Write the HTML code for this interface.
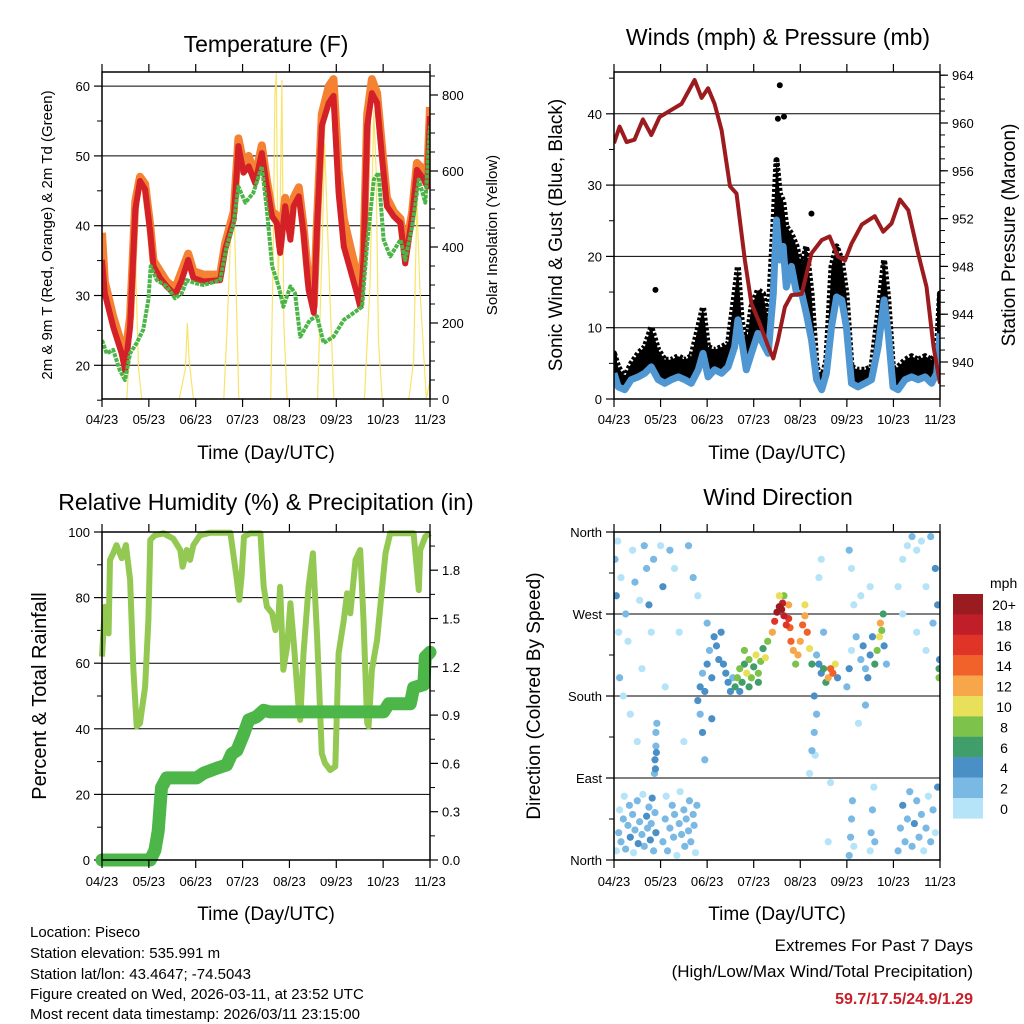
<!DOCTYPE html>
<html><head><meta charset="utf-8"><style>
html,body{margin:0;padding:0;background:#fff}
svg{display:block;font-family:"Liberation Sans",Arial,sans-serif}
</style></head><body>
<svg id="root" width="1024" height="1024" viewBox="0 0 1024 1024">
<defs>
<clipPath id="c1"><rect x="102" y="72" width="328" height="327"/></clipPath>
<clipPath id="c2"><rect x="614" y="72" width="326" height="327"/></clipPath>
<clipPath id="c3"><rect x="90" y="525" width="352" height="345"/></clipPath>
<clipPath id="c4"><rect x="614" y="532" width="326" height="328"/></clipPath>
</defs>
<g id="g1"></g>
<g id="g2"></g>
<g id="g3"></g>
<g id="g4"></g>
<g font-size="15" fill="#000">
<text x="30" y="937">Location: Piseco</text>
<text x="30" y="958">Station elevation: 535.991 m</text>
<text x="30" y="979">Station lat/lon: 43.4647; -74.5043</text>
<text x="30" y="999">Figure created on Wed, 2026-03-11, at 23:52 UTC</text>
<text x="30" y="1019">Most recent data timestamp: 2026/03/11 23:15:00</text>
</g>
<g text-anchor="end">
<text x="973" y="951" font-size="17">Extremes For Past 7 Days</text>
<text x="973" y="977" font-size="17">(High/Low/Max Wind/Total Precipitation)</text>
<text x="973" y="1004" font-size="16" font-weight="bold" fill="#c8202a">59.7/17.5/24.9/1.29</text>
</g>
</svg>
<script>
const NS="http://www.w3.org/2000/svg";
const monthLabels=["04/23","05/23","06/23","07/23","08/23","09/23","10/23","11/23"];
// Temperature
const tempT=[0,.06,.24,.42,.49,.60,.71,.81,.92,1.03,1.10,1.24,1.38,1.56,1.70,1.84,1.95,2.17,2.52,2.63,2.81,2.91,3.02,3.13,3.27,3.41,3.52,3.63,3.73,3.80,3.91,4.02,4.09,4.20,4.30,4.41,4.52,4.59,4.69,4.84,4.94,5.05,5.16,5.30,5.44,5.51,5.58,5.66,5.76,5.87,5.98,6.08,6.23,6.37,6.47,6.62,6.72,6.87,6.94,7.0];
const temp2m=[35.1,30.3,25.5,21.7,19.3,25.5,42.3,46.4,45.2,39,34.2,32.5,31.3,30.1,32.2,35.1,32.5,32,32.2,36.6,40.9,51.4,47.6,48.5,46.1,50.4,45.6,41.3,40.4,36.1,42.8,38,42.8,44.2,39,30.8,27.5,39.9,54.3,57.6,58.6,44.7,37,33.7,30.3,28.4,35.1,54.3,59,57.6,49.5,42.8,41.3,40.4,34.6,41.3,48,46.6,45.6,55.7];
const temp9m=[39,32,27,23,21,27,43.5,47,46,40,35,33.5,32,31,33.5,36,33.5,33,33,37.5,42,52.5,49,50,47,51.5,46.5,42,41.5,37,44,39,44,45.5,40,32,28.5,41,56,60,61,48,41,37,33,31,36,56,61,59,51,44,42,41,36,42,49,48,47,57];
const dewT=[0,.10,.24,.38,.49,.60,.74,.88,.99,1.04,1.17,1.38,1.56,1.70,1.81,2.02,2.17,2.52,2.66,2.81,2.91,3.06,3.23,3.41,3.52,3.63,3.77,3.87,4.02,4.12,4.23,4.44,4.59,4.73,4.94,5.16,5.37,5.55,5.66,5.80,5.90,6.01,6.15,6.37,6.47,6.62,6.76,6.90,7.0];
const dew2m=[23.6,21.7,22.2,19.3,17.9,21.7,23.2,25.1,29.4,34.2,32.2,31.3,29.6,30.3,32.2,31.7,31.5,32.2,37,40.4,45.6,43.3,44.7,48.5,42.3,34.2,31.3,28.4,31.3,30.3,24.1,26.5,27,23.2,24.1,26.5,27.5,28.4,37.5,46.6,47.6,38,35.6,38,35.1,39.9,46.6,43.3,54.3];
const solT=[0,.53,.62,.68,.72,.78,.85,1.65,1.78,1.82,1.86,1.95,2.6,2.68,2.75,2.8,2.86,2.92,3.6,3.65,3.69,3.72,3.76,3.8,3.84,3.88,3.95,4.6,4.7,4.75,4.8,4.87,4.95,5.6,5.72,5.8,5.85,5.9,5.98,6.55,6.65,6.72,6.78,6.85,6.92,7.0];
const solV=[0,0,200,470,350,80,0,0,80,200,100,0,0,220,450,611,300,0,0,350,800,857,300,500,840,200,0,0,400,673,500,250,0,0,300,760,600,150,0,0,100,524,300,150,0,50];
const tempTicks=[20,30,40,50,60];
const solTicks=[0,200,400,600,800];
// Winds
const windT=[0,.09,.23,.37,.52,.66,.80,.95,1.09,1.23,1.38,1.52,1.66,1.81,1.91,2.02,2.16,2.31,2.45,2.59,2.66,2.74,2.84,2.95,3.09,3.20,3.31,3.42,3.49,3.56,3.63,3.70,3.81,3.92,4.03,4.13,4.24,4.35,4.46,4.56,4.67,4.78,4.89,4.99,5.10,5.24,5.39,5.53,5.67,5.80,5.89,5.99,6.10,6.25,6.39,6.53,6.68,6.82,6.93,7.0];
const sonicV=[3.6,1.7,1.3,2.7,3.1,3.6,4.5,2.7,2.2,2.7,3.1,2.7,2.2,4.1,6.4,3.1,4.1,3.6,4.5,7.3,11.1,8.3,4.1,6.4,9.2,7.8,6.4,14.8,25.1,19.5,21.4,15.7,18.6,14.8,14.8,12,8.3,2.7,1.3,3.6,10.1,14.3,13.9,10.1,2.2,1.7,2.2,2.7,7.3,13.9,9.2,1.7,1.3,2.7,3.1,2.7,3.1,2.2,3.6,9.2];
const gustV=[6.4,4.5,3.1,5,6.4,7.3,10.1,6.9,5.5,5.5,6,5.5,6,10.1,12.9,7.3,6.9,7.3,7.8,14.8,18.6,11.1,7.3,12.9,15.3,14.8,11.1,24.2,33.5,28.8,27.8,24.2,23.2,21.4,18.6,21.4,14.8,4.5,2.7,5.5,18.6,21.4,19.5,14.8,4.5,4.1,4.1,4.5,12,19.5,13.9,4.1,4.5,5.5,6,5.5,6,5.5,6.4,14.8];
const gustOutT=[.89,3.56,3.52,3.65,4.24];
const gustOutV=[15.3,44,39.3,39.6,26];
const presT=[0,.12,.27,.44,.62,.80,.98,1.23,1.45,1.73,1.88,2.02,2.16,2.31,2.49,2.63,2.81,2.95,3.13,3.31,3.42,3.52,3.67,3.81,4.03,4.24,4.46,4.63,4.81,4.96,5.10,5.32,5.60,5.78,5.96,6.14,6.32,6.53,6.71,6.86,7.0];
const presV=[958.3,959.7,958.4,958.6,960.3,959,960.5,961.1,961.6,963.6,962.1,962.9,961.6,959.4,954.7,954.1,948.5,944.9,943.2,941.3,940.3,941.8,944.6,945.6,945.7,949.1,950.2,950.5,948.8,948.5,949.9,951.5,952.2,950.9,951.6,953.6,952.7,949.1,946.3,941.3,938.2];
const windTicks=[0,10,20,30,40];
const presTicks=[940,944,948,952,956,960,964];
// Humidity
const rhT=[0,.06,.14,.17,.24,.31,.42,.51,.60,.67,.74,.81,.92,.99,1.03,1.13,1.31,1.52,1.67,1.72,1.81,1.88,1.95,2.09,2.31,2.74,2.82,2.88,2.93,2.98,3.03,3.16,3.38,3.45,3.52,3.63,3.70,3.77,3.80,3.87,3.95,4.02,4.10,4.20,4.23,4.30,4.41,4.50,4.59,4.69,4.76,4.87,4.98,5.05,5.16,5.23,5.30,5.41,5.51,5.58,5.66,5.69,5.76,5.87,5.98,6.05,6.15,6.44,6.65,6.76,6.79,6.90,7.0];
const rhV=[62,77.2,69.1,91.5,93.5,96,92,96,85.4,58,40.7,41.7,52.8,73.2,97.6,99,99.6,98,94.5,89.4,94.5,91.5,96,99,99.8,99.8,91.5,85.4,79.3,86.6,98.6,99.6,99.6,83.3,77.2,75.2,70.1,75.2,83.3,58,65,78.3,65,45.7,42.7,63,83.3,93.5,68.1,32.5,29.5,27.4,28.5,63,73.2,81.3,75.2,91.5,94.5,73.2,41.7,40.7,58,67.1,83.3,93.5,99.6,99.6,99.6,82.3,94.5,98.6,99.6];
const prT=[0,1.03,1.13,1.20,1.27,1.38,2.02,2.17,2.45,2.66,2.77,2.88,3.02,3.13,3.30,3.45,3.59,6.01,6.12,6.58,6.65,6.87,6.90,7.0];
const prV=[0,0,.06,.18,.45,.51,.51,.54,.57,.59,.66,.68,.78,.87,.89,.93,.92,.92,.97,.97,1.07,1.09,1.26,1.29];
const rhTicks=[0,20,40,60,80,100];
const prTicks=["0.0","0.3","0.6","0.9","1.2","1.5","1.8"];
// Wind direction
const wdT=[0.05,0.1,0.12,0.15,0.2,0.22,0.25,0.3,0.33,0.35,0.4,0.42,0.45,0.5,0.52,0.55,0.6,0.62,0.65,0.7,0.72,0.75,0.78,0.8,0.82,0.85,0.88,0.9,
1.05,1.1,1.12,1.15,1.2,1.25,1.28,1.3,1.35,1.4,1.42,1.45,1.5,1.52,1.55,1.6,1.62,1.65,1.7,1.72,1.75,1.78,
0.87,0.88,0.9,0.9,0.92,0.89,0.91,
0.02,0.05,0.08,0.1,0.12,0.15,0.2,0.25,0.3,0.35,0.4,0.45,0.5,0.55,0.6,0.65,0.7,0.75,0.8,0.85,1.0,1.05,1.1,1.2,1.3,1.4,1.5,1.6,1.7,1.8,
1.8,1.85,1.9,1.95,2.0,2.05,2.1,2.15,2.2,2.25,2.3,2.35,2.4,2.45,2.5,2.55,1.85,1.9,2.0,2.1,1.95,
2.6,2.65,2.7,2.75,2.8,2.85,2.9,2.95,3.0,3.05,3.1,3.15,3.2,3.25,3.3,2.7,2.9,3.1,2.8,
3.4,3.45,3.5,3.55,3.6,3.62,3.65,3.7,3.75,3.78,3.8,3.85,3.55,3.65,3.75,
3.9,3.95,4.0,4.05,4.1,4.15,4.2,4.25,4.1,
4.35,4.4,4.45,4.5,4.55,4.6,4.65,4.7,4.75,4.8,4.3,4.35,4.3,4.32,4.5,4.4,4.45,
5.0,5.05,5.1,5.2,5.3,5.35,5.4,5.45,5.5,5.55,5.6,5.65,5.7,5.72,5.75,5.78,5.8,5.85,5.15,5.3,5.5,5.05,5.1,5.25,5.4,
5.05,5.08,5.1,5.12,5.15,5.5,5.52,5.55,5.58,5.6,4.6,4.65,4.2,4.25,
6.1,6.15,6.2,6.25,6.3,6.35,6.4,6.45,6.5,6.55,6.6,6.65,6.7,6.75,6.8,6.85,6.9,6.95,
6.2,6.3,6.4,6.5,6.6,6.7,6.8,6.9,6.95,6.1,6.2,6.5,6.7,6.85,
6.98,6.98,6.99];
const wdD=[10,30,55,20,45,70,12,38,60,25,50,8,33,65,18,42,28,72,15,48,35,58,22,40,68,10,52,30,
20,45,70,10,35,60,25,50,5,40,75,28,55,15,45,32,65,20,50,38,8,60,
95,110,125,140,150,100,118,
330,290,350,250,200,310,180,270,240,160,340,305,130,285,210,345,320,280,250,330,345,300,190,340,320,250,130,345,310,290,
175,190,205,185,215,230,200,245,235,220,250,215,205,195,185,200,160,140,260,155,110,
190,200,210,195,215,205,220,200,212,225,205,218,232,222,240,185,190,195,230,
250,262,272,278,275,282,268,258,265,255,240,230,290,290,280,
215,225,240,258,268,250,232,215,280,
225,215,205,210,195,200,210,205,215,200,180,160,140,115,250,310,330,
190,210,230,245,220,235,210,200,225,245,215,230,245,260,252,270,235,215,280,290,300,340,320,150,170,
5,25,45,65,15,10,30,55,80,20,20,85,95,120,
10,35,60,20,45,75,15,40,65,25,50,10,35,70,20,55,30,80,
330,345,355,340,350,300,355,320,280,300,270,250,230,260,
210,200,220];
const wdS=[1,2,1,3,2,1,2,3,2,4,3,1,2,3,4,3,2,1,3,4,2,3,4,2,4,3,2,4,
2,3,1,2,2,3,2,2,1,3,1,2,3,2,2,3,2,2,3,2,1,2,
3,4,3,2,2,5,4,
2,4,1,1,2,1,1,2,1,0,1,3,1,1,1,3,3,4,1,2,1,4,1,3,1,1,1,3,2,1,
4,4,3,4,4,3,4,5,4,4,5,4,4,5,4,3,3,4,2,4,2,
7,8,9,6,7,10,8,9,7,10,8,9,7,10,8,5,6,6,9,
13,16,20,22,21,18,19,17,16,14,15,12,11,9,12,
8,12,13,15,12,14,10,6,11,
3,4,4,6,7,12,15,14,10,4,4,3,2,1,3,1,1,
3,4,1,2,3,4,3,4,5,4,7,8,10,12,9,7,4,3,1,1,1,3,1,1,2,
2,3,2,2,1,1,2,3,1,2,1,1,1,3,
2,3,4,3,2,3,2,4,3,2,3,1,2,1,3,2,1,4,
1,1,2,1,1,1,3,4,4,1,1,1,1,3,
6,8,5];
const dirTicks=["North","East","South","West","North"];
const speedColors=["#b5e3f7","#7ab9e4","#4a8fc6","#3f9e6a","#7dc24a","#e8e05a","#f7a64a","#f0622a","#df3427","#c01f2a","#9b1c20"];
const speedLabels=["0","2","4","6","8","10","12","14","16","18","20+"];

function el(tag,attrs,parent,txt){const e=document.createElementNS(NS,tag);for(const k in attrs)e.setAttribute(k,attrs[k]);if(txt!==undefined)e.textContent=txt;parent.appendChild(e);return e;}
function pathD(ts,vs,fx,fy){return ts.map((t,i)=>(i?"L":"M")+fx(t).toFixed(1)+","+fy(vs[i]).toFixed(1)).join("");}

function frame(g,x0,x1,y0,y1,name){
  const r=el("rect",{x:x0,y:y0,width:x1-x0,height:y1-y0,fill:"none",stroke:"#000","stroke-width":1.5},g);
  
  
}
function xAxis(g,x0,x1,y0,y1,labY,titleY){
  for(let i=0;i<8;i++){
    const x=x0+i*(x1-x0)/7;
    const t1=el("line",{x1:x,x2:x,y1:y1,y2:y1+8,stroke:"#000","stroke-width":1.2},g);
    
    
    el("line",{x1:x,x2:x,y1:y0,y2:y0-8,stroke:"#000","stroke-width":1.2},g);
    const tx=el("text",{x:x,y:labY,"font-size":13,"text-anchor":"middle"},g,monthLabels[i]);
    
    
  }
  const tt=el("text",{x:(x0+x1)/2,y:titleY,"font-size":19,"text-anchor":"middle"},g,"Time (Day/UTC)");
  
  
}
function ticksY(g,vals,fy,x,dir,labels,grid,x0,x1,fs,name){
  vals.forEach((v,i)=>{
    const y=fy(v);
    if(grid){const gl=el("line",{x1:x0,x2:x1,y1:y,y2:y,stroke:"#000","stroke-width":1},g);
      
      }
    el("line",{x1:x,x2:x+dir*8,y1:y,y2:y,stroke:"#000","stroke-width":1.2},g);
    if(labels){const tx=el("text",{x:x+dir*12,y:y+5,"font-size":fs||13,"text-anchor":dir<0?"end":"start"},g,labels[i]);
      
      }
  });
}
function minorY(g,vals,fy,x,dir){vals.forEach(v=>{const y=fy(v);el("line",{x1:x,x2:x+dir*5,y1:y,y2:y,stroke:"#000","stroke-width":1},g);});}
function rotText(g,x,y,txt,fs,name){const t=el("text",{x:x,y:y,"font-size":fs,"text-anchor":"middle",transform:`rotate(-90 ${x} ${y})`},g,txt);
  
  }
function title(g,x,y,txt,name){const t=el("text",{x:x,y:y,"font-size":23,"text-anchor":"middle"},g,txt);
  
  }

// ---------- Panel 1
(function(){
  const g=document.getElementById("g1");
  const X0=102,X1=430,Y0=72,Y1=399;
  const fx=m=>X0+m*(X1-X0)/7, fy=v=>365.3-(v-20)*6.98, fs=v=>399-v*0.38;
  title(g,266,52,"Temperature (F)","temperature-title");
  ticksY(g,tempTicks,fy,X0,-1,tempTicks.map(String),true,X0,X1,13,"temp");
  minorY(g,[15,25,35,45,55],fy,X0,-1);
  ticksY(g,solTicks,fs,X1,1,solTicks.map(String),false,0,0,13,"solar");
  minorY(g,[50,100,150,250,300,350,450,500,550,650,700,750,850],fs,X1,1);
  const c=el("g",{"clip-path":"url(#c1)"},g);
  const sol=el("path",{d:pathD(solT,solV,fx,fs),fill:"none",stroke:"#f7e15a","stroke-width":1.2,opacity:0.9},c);
  
  
  const o=el("path",{d:pathD(tempT,temp9m,fx,fy),fill:"none",stroke:"#f58233","stroke-width":8,"stroke-linejoin":"round"},c);
  
  
  const r=el("path",{d:pathD(tempT,temp2m,fx,fy),fill:"none",stroke:"#d42027","stroke-width":6,"stroke-linejoin":"round"},c);
  
  
  const d=el("path",{d:pathD(dewT,dew2m,fx,fy),fill:"none",stroke:"#4cb548","stroke-width":4,"stroke-linejoin":"round","stroke-dasharray":"4 1"},c);
  
  
  frame(g,X0,X1,Y0,Y1,"temperature");
  xAxis(g,X0,X1,Y0,Y1,424,459);
  rotText(g,52,235,"2m & 9m T (Red, Orange) & 2m Td (Green)",15,"temp-y-axis-title");
  rotText(g,497,235,"Solar Insolation (Yellow)",15,"solar-y-axis-title");
})();

// ---------- Panel 2
(function(){
  const g=document.getElementById("g2");
  const X0=614,X1=940,Y0=72,Y1=399;
  const fx=m=>X0+m*(X1-X0)/7, fy=v=>399-v*7.13, fp=p=>362-(p-940)*11.95;
  title(g,778,45,"Winds (mph) & Pressure (mb)","winds-title");
  ticksY(g,windTicks,fy,X0,-1,windTicks.map(String),true,X0,X1,13,"wind");
  minorY(g,[5,15,25,35,45],fy,X0,-1);
  ticksY(g,presTicks,fp,X1,1,presTicks.map(String),false,0,0,13,"pressure");
  const pm=[];for(let p=938;p<=964;p++)pm.push(p);minorY(g,pm,fp,X1,1);
  const c=el("g",{"clip-path":"url(#c2)"},g);
  const band=pathD(windT,gustV,fx,fy)+pathD(windT.slice().reverse(),sonicV.slice().reverse(),fx,fy).replace("M","L")+"Z";
  const gb=el("path",{d:band,fill:"#000",stroke:"#000","stroke-width":6,"stroke-linejoin":"round","stroke-dasharray":"3 2"},c);
  
  
  gustOutT.forEach((t,i)=>{const dd=el("circle",{cx:fx(t),cy:fy(gustOutV[i]),r:3},c);
    
    });
  const s=el("path",{d:pathD(windT,sonicV,fx,fy),fill:"none",stroke:"#4f97d2","stroke-width":7,"stroke-linejoin":"round"},c);
  
  
  const p=el("path",{d:pathD(presT,presV,fx,fp),fill:"none",stroke:"#9b1b1e","stroke-width":4,"stroke-linejoin":"round"},c);
  
  
  frame(g,X0,X1,Y0,Y1,"winds");
  xAxis(g,X0,X1,Y0,Y1,424,459);
  rotText(g,562,235,"Sonic Wind & Gust (Blue, Black)",19,"wind-y-axis-title");
  rotText(g,1015,235,"Station Pressure (Maroon)",19,"pressure-y-axis-title");
})();

// ---------- Panel 3
(function(){
  const g=document.getElementById("g3");
  const X0=102,X1=430,Y0=532,Y1=860;
  const fx=m=>X0+m*(X1-X0)/7, fy=v=>860-v*3.28, fr=v=>860-v*161;
  title(g,266,510,"Relative Humidity (%) & Precipitation (in)","humidity-title");
  ticksY(g,rhTicks,fy,X0,-1,rhTicks.map(String),true,X0,X1,13,"rh");
  minorY(g,[10,30,50,70,90],fy,X0,-1);
  ticksY(g,prTicks.map(Number),fr,X1,1,prTicks,false,0,0,13,"precip");
  minorY(g,[0.15,0.45,0.75,1.05,1.35,1.65,1.95],fr,X1,1);
  const c=el("g",{"clip-path":"url(#c3)"},g);
  const rh=el("path",{d:pathD(rhT,rhV,fx,fy),fill:"none",stroke:"#93c952","stroke-width":6,"stroke-linejoin":"round"},c);
  
  
  const pr=el("path",{d:pathD(prT,prV,fx,fr),fill:"none",stroke:"#4cb648","stroke-width":13,"stroke-linejoin":"round","stroke-linecap":"round"},c);
  
  
  frame(g,X0,X1,Y0,Y1,"humidity");
  xAxis(g,X0,X1,Y0,Y1,886,920);
  rotText(g,46,696,"Percent & Total Rainfall",20,"rh-y-axis-title");
})();

// ---------- Panel 4
(function(){
  const g=document.getElementById("g4");
  const X0=614,X1=940,Y0=532,Y1=860;
  const fx=m=>X0+m*(X1-X0)/7, fy=d=>860-d*328/360;
  title(g,778,505,"Wind Direction","wind-direction-title");
  ticksY(g,[0,90,180,270,360],fy,X0,-1,dirTicks,true,X0,X1,13,"direction");
  minorY(g,[45,135,225,315],fy,X0,-1);
  const c=el("g",{"clip-path":"url(#c4)"},g);
  const order=wdS.map((s,i)=>i).sort((a,b)=>wdS[a]-wdS[b]);
  order.forEach(i=>{
    const bin=Math.min(10,Math.floor(wdS[i]/2));
    const dot=el("circle",{cx:fx(wdT[i]),cy:fy(wdD[i]),r:3.6,fill:speedColors[bin]},c);
    
    
  });
  frame(g,X0,X1,Y0,Y1,"wind-direction");
  xAxis(g,X0,X1,Y0,Y1,886,920);
  rotText(g,540,696,"Direction (Colored By Speed)",19,"direction-y-axis-title");
  const lg=el("g",{},g);
  
  
  const mph=el("text",{x:990,y:588,"font-size":14},lg,"mph");
  
  
  speedColors.forEach((col,i)=>{
    const k=10-i, y=594+i*20.4;
    const b=el("rect",{x:953,y:y,width:30,height:20.6,fill:speedColors[k]},lg);
    
    
    const t=el("text",{x:1004,y:y+16,"font-size":14,"text-anchor":"middle"},lg,speedLabels[k]);
    
    
  });
})();
</script>
</body></html>
